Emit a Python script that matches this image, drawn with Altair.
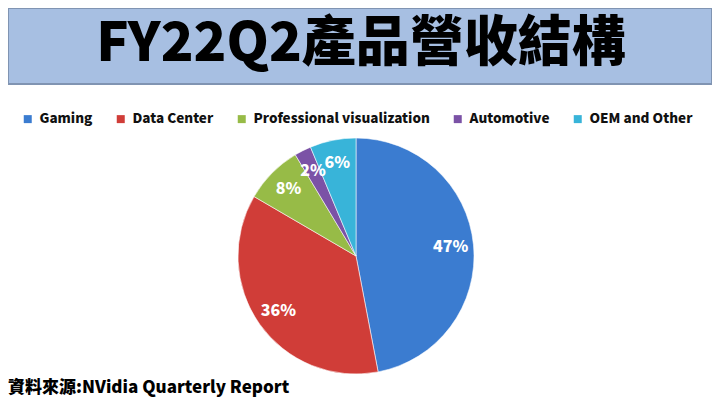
import altair as alt
import pandas as pd

title_text = ["FY22Q2產品營收結構"]
source_text = ["資料來源:NVidia Quarterly Report"]

categories = ["Gaming", "Data Center", "Professional visualization", "Automotive", "OEM and Other"]
shares = [47.0, 36.4, 8.0, 2.3, 6.3]
labels = ["47%", "36%", "8%", "2%", "6%"]
colors = ["#3b7cd0", "#d03d38", "#97bb47", "#7b52a6", "#38b4d9"]

FONT = "Noto Sans CJK TC"
W, H = 704, 389
CX, CY = 348, 248

df = pd.DataFrame({"category": categories, "share": shares, "label": labels,
                   "idx": list(range(len(categories)))})

box = alt.Chart(pd.DataFrame({"t": title_text})).mark_rect(
    fill="#a7bfe2", stroke="#8094b2", strokeWidth=2
).encode(x=alt.value(0), x2=alt.value(W), y=alt.value(0), y2=alt.value(76))

title = alt.Chart(pd.DataFrame({"t": title_text})).mark_text(
    font=FONT, fontWeight=900, fontSize=54, color="#000000",
    align="center", baseline="middle"
).encode(text="t:N", x=alt.value(W / 2 + 1), y=alt.value(37))

pie = alt.Chart(df).mark_arc(outerRadius=118, stroke="#ffffff", strokeWidth=0.8, strokeOpacity=0.7).encode(
    theta=alt.Theta("share:Q", stack=True),
    order=alt.Order("idx:Q"),
    color=alt.Color(
        "category:N", sort=categories, title=None,
        scale=alt.Scale(domain=categories, range=colors),
        legend=alt.Legend(
            orient="none", direction="horizontal", legendX=13, legendY=104,
            symbolType="square", symbolSize=64, symbolStrokeWidth=0,
            labelFont=FONT, labelFontWeight=900, labelFontSize=13.5,
            labelColor="#111111", labelOffset=5, columnPadding=21, labelLimit=0,
        ),
    ),
    x=alt.value(CX), y=alt.value(CY),
)

pie_labels = alt.Chart(df).mark_text(
    radius=95, font=FONT, fontWeight=900, fontSize=16, color="#ffffff",
    align="center", baseline="middle"
).encode(
    theta=alt.Theta("share:Q", stack=True),
    order=alt.Order("idx:Q"),
    detail="category:N",
    text="label:N",
    x=alt.value(CX), y=alt.value(CY),
)

source = alt.Chart(pd.DataFrame({"t": source_text})).mark_text(
    font=FONT, fontWeight=900, fontSize=17, color="#000000",
    align="left", baseline="middle"
).encode(text="t:N", x=alt.value(0), y=alt.value(H - 9))

chart = alt.layer(box, title, pie, pie_labels, source).properties(
    width=W, height=H, autosize=alt.AutoSizeParams(type="none"), padding=0,
    background="#ffffff"
).configure_view(stroke=None)

chart.save("out.html", embed_options={"renderer": "svg", "actions": False})
